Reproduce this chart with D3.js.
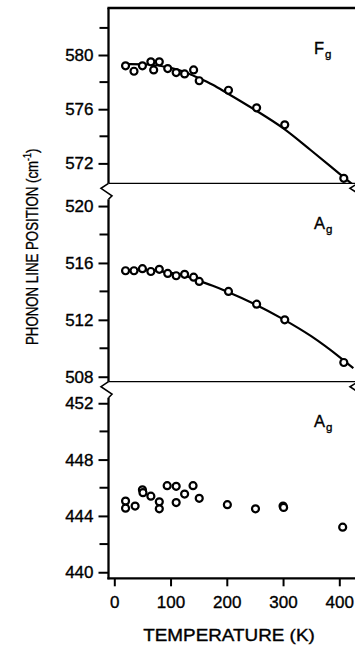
<!DOCTYPE html>
<html>
<head>
<meta charset="utf-8">
<script src="https://cdn.jsdelivr.net/npm/d3@7"></script>
<style>
  body { margin: 0; background: #fff; }
  svg { display: block; font-family: "Liberation Sans", Arial, sans-serif; }
  svg text { stroke: #000; stroke-width: 0.35px; }
</style>
</head>
<body>
<svg id="root" width="355" height="647"></svg>
<script>
// temperatures (K) and line positions (cm-1)
const fgTemp = [20, 35, 50, 65, 70, 80, 95, 110, 125, 141, 151, 203, 253, 303, 408];
const fgPos  = [579.2, 578.8, 579.2, 579.5, 578.9, 579.5, 579.0, 578.7, 578.6, 578.9, 578.1, 577.4, 576.1, 574.85, 570.9];
const fgFitTemp = [15, 60, 100, 125, 150, 175, 200, 250, 300, 350, 400, 425];
const fgFitPos  = [579.35, 579.3, 579.05, 578.75, 578.3, 577.8, 577.2, 575.95, 574.6, 572.95, 571.25, 570.4];

const ag1Temp = [20, 35, 50, 65, 80, 95, 110, 125, 141, 151, 203, 253, 303, 408];
const ag1Pos  = [515.45, 515.45, 515.6, 515.4, 515.55, 515.26, 515.1, 515.2, 515.0, 514.7, 514.0, 513.1, 512.0, 509.0];
const ag1FitTemp = [15, 60, 100, 125, 150, 175, 200, 250, 300, 350, 400, 425];
const ag1FitPos  = [515.5, 515.5, 515.3, 515.1, 514.75, 514.4, 514.0, 513.1, 512.05, 510.85, 509.4, 508.6];

const ag2Temp = [20, 20, 37, 50, 51, 65, 80, 80, 94, 110, 110, 125, 140, 151, 201, 251, 300, 301, 406];
const ag2Pos  = [445.05, 444.55, 444.7, 445.85, 445.65, 445.4, 445.0, 444.5, 446.15, 446.1, 444.95, 445.55, 446.15, 445.25, 444.8, 444.5, 444.7, 444.6, 443.2];

const xTicks = [0, 100, 200, 300, 400];
const panels = [
  { name: "F", sub: "g", domain: [570.53, 583.47], range: [183.3, 8], major: [572, 576, 580], minor: [574, 578, 582],
    temp: fgTemp, pos: fgPos, fitTemp: fgFitTemp, fitPos: fgFitPos },
  { name: "A", sub: "g", domain: [507.65, 521.6], range: [381.7, 183.3], major: [508, 512, 516, 520], minor: [510, 514, 518],
    temp: ag1Temp, pos: ag1Pos, fitTemp: ag1FitTemp, fitPos: ag1FitPos },
  { name: "A", sub: "g", domain: [439.57, 453.53], range: [578.3, 381.7], major: [440, 444, 448, 452], minor: [442, 446, 450],
    temp: ag2Temp, pos: ag2Pos }
];

const axisX = 108.5;
const rightX = 358;
const font = '"Liberation Sans", Arial, sans-serif';
const svg = d3.select('#root');

const x = d3.scaleLinear().domain([0, 400]).range([114.3, 339.3]);

panels.forEach((p, i) => {
  const y = d3.scaleLinear().domain(p.domain).range(p.range);
  const top = p.range[1], bottom = p.range[0];
  const clipId = 'clip' + i;
  svg.append('clipPath').attr('id', clipId)
    .append('rect').attr('x', axisX).attr('y', top).attr('width', 355 - axisX).attr('height', bottom - top);

  // left axis segment (leave room for the break mark at the top of lower panels)
  const axisTop = i === 0 ? top : top + 16;
  const g = svg.append('g').attr('transform', `translate(${axisX},0)`);
  g.call(d3.axisLeft(y).tickValues(p.major).tickSize(10).tickPadding(5).tickFormat(d3.format('d')));
  g.attr('font-size', 17).attr('font-family', font);
  g.select('.domain').remove();
  g.selectAll('.tick line').attr('stroke', '#000').attr('stroke-width', 2);
  g.selectAll('.tick text').attr('fill', '#000');
  g.append('g').selectAll('line').data(p.minor).join('line')
    .attr('x1', -9).attr('x2', 0).attr('y1', d => y(d)).attr('y2', d => y(d))
    .attr('stroke', '#000').attr('stroke-width', 2);
  g.append('line').attr('x1', 0).attr('x2', 0).attr('y1', axisTop).attr('y2', bottom + (i === 2 ? 1 : 0))
    .attr('stroke', '#000').attr('stroke-width', 2.3);

  // break marks between panels
  if (i > 0) {
    const zig = d3.line();
    svg.append('path')
      .attr('d', zig([[axisX, top], [axisX - 7.5, top + 5], [axisX + 3.5, top + 12.5], [axisX, top + 16]]))
      .attr('fill', 'none').attr('stroke', '#000').attr('stroke-width', 1.6);
    svg.append('path')
      .attr('d', zig([[rightX, top], [rightX - 8, top + 5], [rightX + 3.5, top + 12.5], [rightX, top + 16]]))
      .attr('fill', 'none').attr('stroke', '#000').attr('stroke-width', 1.6);
    svg.append('line').attr('x1', axisX).attr('x2', 355).attr('y1', top).attr('y2', top)
      .attr('stroke', '#000').attr('stroke-width', 1.3);
  }

  const plot = svg.append('g').attr('clip-path', `url(#${clipId})`);
  if (p.fitTemp) {
    const line = d3.line().x(d => x(d[0])).y(d => y(d[1])).curve(d3.curveMonotoneX);
    plot.append('path').datum(d3.zip(p.fitTemp, p.fitPos))
      .attr('d', line).attr('fill', 'none').attr('stroke', '#000').attr('stroke-width', 2.2);
  }
  plot.selectAll('circle').data(d3.zip(p.temp, p.pos)).join('circle')
    .attr('cx', d => x(d[0])).attr('cy', d => y(d[1])).attr('r', 3.5)
    .attr('fill', '#fff').attr('stroke', '#000').attr('stroke-width', 2.2);

  // mode label
  const lbl = svg.append('text').attr('x', 314).attr('y', top + 45.5)
    .attr('font-size', 16.5).attr('fill', '#000');
  lbl.append('tspan').text(p.name);
  lbl.append('tspan').attr('font-size', 11.5).attr('dy', 4).attr('dx', 1).text(p.sub);
});

// top frame
svg.append('line').attr('x1', axisX - 1.1).attr('x2', 355).attr('y1', 8).attr('y2', 8)
  .attr('stroke', '#000').attr('stroke-width', 2.3);

// bottom temperature axis
const gx = svg.append('g').attr('transform', 'translate(0,578.3)');
gx.call(d3.axisBottom(x).tickValues(xTicks).tickSize(8).tickPadding(10).tickFormat(d3.format('d')));
gx.attr('font-size', 17).attr('font-family', font);
gx.select('.domain').remove();
gx.selectAll('.tick line').attr('stroke', '#000').attr('stroke-width', 2);
gx.selectAll('.tick text').attr('fill', '#000');
gx.append('line').attr('x1', axisX - 1.1).attr('x2', 355).attr('y1', 0).attr('y2', 0)
  .attr('stroke', '#000').attr('stroke-width', 2.3);

svg.append('text')
  .attr('transform', 'translate(229,641) scale(1.18,1)')
  .attr('text-anchor', 'middle').attr('font-size', 16).attr('fill', '#000')
  .text('TEMPERATURE (K)');

const yt = svg.append('text')
  .attr('transform', 'translate(37.5,345) rotate(-90) scale(0.78,1)')
  .attr('font-size', 17).attr('fill', '#000');
yt.append('tspan').text('PHONON LINE POSITION (cm');
yt.append('tspan').attr('font-size', 11.5).attr('dy', -7).text('-1');
yt.append('tspan').attr('dy', 7).text(')');
</script>
</body>
</html>
